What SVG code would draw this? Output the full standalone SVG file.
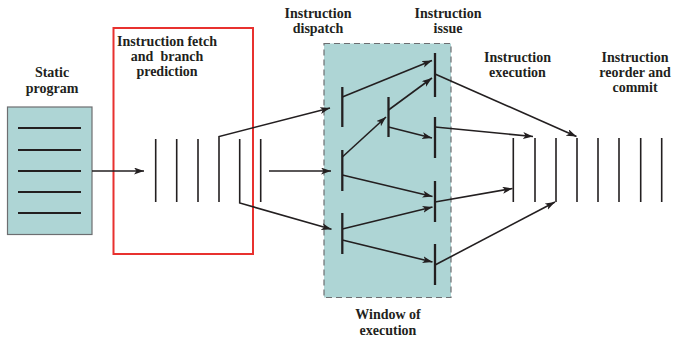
<svg xmlns="http://www.w3.org/2000/svg" width="674" height="337" viewBox="0 0 674 337">
<defs>
<marker id="ah" markerUnits="userSpaceOnUse" markerWidth="11" markerHeight="8" refX="10" refY="3.5" orient="auto">
<path d="M0,0 L10,3.5 L0,7 L2.5,3.5 z" fill="#231f20"/>
</marker>
</defs>
<style>
.t{font-family:"Liberation Serif","Times New Roman",serif;font-weight:bold;font-size:14px;fill:#231f20;text-anchor:middle;white-space:pre}
.thin{stroke:#231f20;stroke-width:1.6;fill:none}
.bar{stroke:#231f20;stroke-width:2.3;fill:none}
.arr{stroke:#231f20;stroke-width:1.6;fill:none;marker-end:url(#ah)}
</style>
<rect width="674" height="337" fill="#ffffff"/>

<g id="static-program">
<rect x="7.5" y="107" width="84.5" height="127.5" fill="#aed5d5" stroke="#6d6e71" stroke-width="1.2"/>
<g class="bar" style="stroke-width:1.8">
<line x1="18" y1="128" x2="81" y2="128"/>
<line x1="18" y1="150" x2="81" y2="150"/>
<line x1="18" y1="171" x2="81" y2="171"/>
<line x1="18" y1="192" x2="81" y2="192"/>
<line x1="18" y1="213" x2="81" y2="213"/>
</g>
<text class="t" x="52" y="77">Static</text>
<text class="t" x="52" y="93">program</text>
</g>

<g id="fetch">
<rect x="113.5" y="28" width="139.5" height="226" fill="none" stroke="#e8312f" stroke-width="2"/>
<text class="t" x="167" y="46">Instruction fetch</text>
<text class="t" x="167" y="61" xml:space="preserve">and  branch</text>
<text class="t" x="167" y="76">prediction</text>
<g class="thin">
<line x1="155.7" y1="139" x2="155.7" y2="202"/>
<line x1="176.7" y1="139" x2="176.7" y2="202"/>
<line x1="198" y1="139" x2="198" y2="202"/>
<line x1="219" y1="139" x2="219" y2="202"/>
<line x1="239.7" y1="139" x2="239.7" y2="202"/>
<line x1="260.7" y1="139" x2="260.7" y2="202"/>
</g>
</g>

<g id="window">
<rect x="324" y="43.5" width="127" height="254" fill="#aed5d5" stroke="#6d6e71" stroke-width="1.2" stroke-dasharray="6,4"/>
<text class="t" x="318" y="18">Instruction</text>
<text class="t" x="318" y="33">dispatch</text>
<text class="t" x="448" y="18">Instruction</text>
<text class="t" x="448" y="33">issue</text>
<text class="t" x="388" y="319">Window of</text>
<text class="t" x="388" y="335">execution</text>
<g class="bar">
<line x1="342.3" y1="87" x2="342.3" y2="127"/>
<line x1="342.3" y1="150" x2="342.3" y2="191"/>
<line x1="342.3" y1="213" x2="342.3" y2="254"/>
<line x1="388.5" y1="97" x2="388.5" y2="137"/>
<line x1="435" y1="53" x2="435" y2="97"/>
<line x1="435" y1="117" x2="435" y2="158"/>
<line x1="435" y1="181" x2="435" y2="222"/>
<line x1="435" y1="244" x2="435" y2="285"/>
</g>
</g>

<g id="execution">
<text class="t" x="517.5" y="62">Instruction</text>
<text class="t" x="517.5" y="77">execution</text>
<g class="thin">
<line x1="513.3" y1="138" x2="513.3" y2="202"/>
<line x1="535" y1="138" x2="535" y2="202"/>
<line x1="556" y1="138" x2="556" y2="202"/>
<line x1="577" y1="138" x2="577" y2="202"/>
</g>
</g>

<g id="commit">
<text class="t" x="635" y="62">Instruction</text>
<text class="t" x="635" y="77">reorder and</text>
<text class="t" x="635" y="92">commit</text>
<g class="thin">
<line x1="598" y1="138" x2="598" y2="202"/>
<line x1="619" y1="138" x2="619" y2="202"/>
<line x1="640.7" y1="138" x2="640.7" y2="202"/>
<line x1="661.7" y1="138" x2="661.7" y2="202"/>
</g>
</g>

<g id="connectors">
<line class="arr" x1="92" y1="171" x2="144" y2="171"/>
<polyline class="arr" points="219,139 219,136.5 330,108"/>
<line class="arr" x1="269" y1="171" x2="331" y2="171"/>
<polyline class="arr" points="239.7,202 239.7,203 331.5,229.3"/>
<line class="arr" x1="342.3" y1="97" x2="432" y2="60.5"/>
<line class="arr" x1="342.3" y1="157" x2="386" y2="117"/>
<line class="arr" x1="388.5" y1="110" x2="432" y2="78"/>
<line class="arr" x1="388.5" y1="127" x2="432" y2="138"/>
<line class="arr" x1="342.3" y1="175" x2="432.5" y2="196.5"/>
<line class="arr" x1="342.3" y1="229" x2="432.5" y2="207"/>
<line class="arr" x1="342.3" y1="240" x2="432.5" y2="262"/>
<line class="arr" x1="435" y1="74" x2="576.5" y2="136.5"/>
<line class="arr" x1="435" y1="127" x2="533" y2="136.5"/>
<line class="arr" x1="435" y1="202" x2="512.5" y2="188.5"/>
<line class="arr" x1="435" y1="265" x2="555" y2="202"/>
</g>
</svg>
